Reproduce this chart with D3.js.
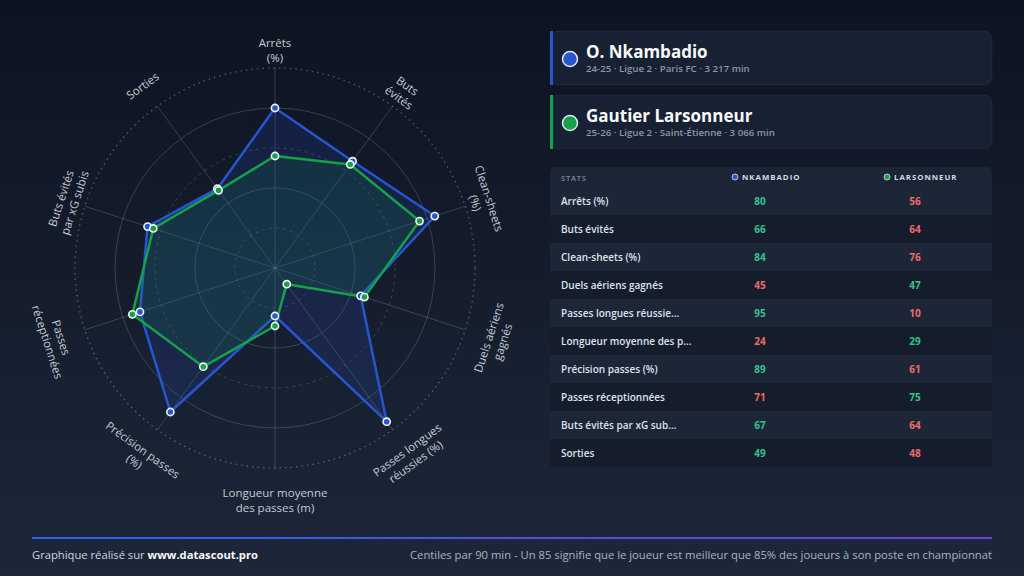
<!DOCTYPE html>
<html>
<head>
<meta charset="utf-8">
<script src="https://cdn.jsdelivr.net/npm/d3@7"></script>
<style>
  html, body { margin: 0; padding: 0; background: #0e1422; }
  svg { display: block; font-family: "Open Sans", "Noto Sans", sans-serif; }
</style>
</head>
<body>
<div id="chart"></div>
<script>
// stats, in radar order (clockwise from top)
const statNames = ["Arrêts (%)", "Buts évités", "Clean-sheets (%)", "Duels aériens gagnés",
  "Passes longues réussies (%)", "Longueur moyenne des passes (m)", "Précision passes (%)",
  "Passes réceptionnées", "Buts évités par xG subis", "Sorties"];
const axisLabels = [["Arrêts", "(%)"], ["Buts", "évités"], ["Clean-sheets", "(%)"], ["Duels aériens", "gagnés"],
  ["Passes longues", "réussies (%)"], ["Longueur moyenne", "des passes (m)"], ["Précision passes", "(%)"],
  ["Passes", "réceptionnées"], ["Buts évités", "par xG subis"], ["Sorties"]];
const nkambadio = [80, 66, 84, 45, 95, 24, 89, 71, 67, 49];
const larsonneur = [56, 64, 76, 47, 10, 29, 61, 75, 64, 48];
const ringTicks = [20, 40, 60, 80, 100];

const players = [
  { short: "NKAMBADIO", name: "O. Nkambadio", info: "24-25 · Ligue 2 · Paris FC · 3 217 min", color: "#2855d0", values: nkambadio },
  { short: "LARSONNEUR", name: "Gautier Larsonneur", info: "25-26 · Ligue 2 · Saint-Étienne · 3 066 min", color: "#15a049", values: larsonneur }
];

const width = 1024, height = 576;
const svg = d3.select("#chart").append("svg").attr("width", width).attr("height", height);

const defs = svg.append("defs");
const bg = defs.append("linearGradient").attr("id", "bg").attr("x1", 0).attr("y1", 0).attr("x2", 0).attr("y2", 1);
bg.append("stop").attr("offset", "0%").attr("stop-color", "#0d1321");
bg.append("stop").attr("offset", "100%").attr("stop-color", "#1d2739");
const line = defs.append("linearGradient").attr("id", "footline");
line.append("stop").attr("offset", "0%").attr("stop-color", "#2563eb");
line.append("stop").attr("offset", "100%").attr("stop-color", "#6d3fd8");

svg.append("rect").attr("width", width).attr("height", height).attr("fill", "url(#bg)");

// ---- radar ----
const cx = 275, cy = 268;
const r = d3.scaleLinear().domain([0, 100]).range([0, 200]);
const angle = d3.scaleLinear().domain([0, statNames.length]).range([0, 2 * Math.PI]);
const pt = (i, v) => [cx + r(v) * Math.sin(angle(i)), cy - r(v) * Math.cos(angle(i))];

const radar = svg.append("g");
const grid = radar.append("g").attr("fill", "none");

grid.selectAll("circle").data(ringTicks).enter().append("circle")
  .attr("cx", cx).attr("cy", cy).attr("r", d => r(d))
  .attr("stroke", d => d === 100 ? "rgba(203,213,225,0.35)" : "rgba(203,213,225,0.2)")
  .attr("stroke-width", d => d === 100 ? 1.3 : 1)
  .attr("stroke-dasharray", d => d === 100 ? "1.5 4" : (d % 40 === 0 ? null : "3 4"));

grid.selectAll("line").data(statNames).enter().append("line")
  .attr("x1", cx).attr("y1", cy)
  .attr("x2", (d, i) => pt(i, 100)[0]).attr("y2", (d, i) => pt(i, 100)[1])
  .attr("stroke", "rgba(203,213,225,0.2)").attr("stroke-width", 1);

players.forEach((p, k) => {
  const poly = p.values.map((v, i) => pt(i, v));
  radar.append("path")
    .attr("d", d3.line().curve(d3.curveLinearClosed)(poly))
    .attr("fill", p.color).attr("fill-opacity", k === 0 ? 0.17 : 0.13)
    .attr("stroke", p.color).attr("stroke-width", 2.5).attr("stroke-linejoin", "round");
});
players.forEach(p => {
  radar.append("g").selectAll("circle").data(p.values).enter().append("circle")
    .attr("cx", (v, i) => pt(i, v)[0]).attr("cy", (v, i) => pt(i, v)[1])
    .attr("r", 3.6).attr("fill", p.color).attr("stroke", "#f1f5f9").attr("stroke-width", 1.6);
});

const labels = radar.append("g").attr("fill", "#c3cad5").attr("font-size", 11.5).attr("font-weight", 500)
  .attr("text-anchor", "middle");
axisLabels.forEach((lines, i) => {
  const [x, y] = pt(i, 112.5);
  let deg = angle(i) * 180 / Math.PI;
  if (deg > 90 && deg < 270) deg -= 180;
  const t = labels.append("text").attr("transform", `translate(${x},${y}) rotate(${deg})`);
  lines.forEach((s, j) => t.append("tspan").attr("x", 0).attr("y", j * 14.5).attr("dy", "0.35em").text(s));
});

// ---- player cards ----
const cardX = 550, cardW = 442;
players.forEach((p, k) => {
  const y0 = 31 + k * 64;
  const g = svg.append("g");
  g.append("rect").attr("x", cardX).attr("y", y0).attr("width", cardW).attr("height", 54).attr("rx", 8)
    .attr("fill", "#182133").attr("stroke", "rgba(255,255,255,0.05)");
  g.append("rect").attr("x", cardX).attr("y", y0).attr("width", 3).attr("height", 54).attr("fill", p.color);
  g.append("circle").attr("cx", 570).attr("cy", y0 + 28).attr("r", 7.5)
    .attr("fill", p.color).attr("stroke", "#e2e8f0").attr("stroke-width", 1.5);
  g.append("text").attr("x", 586).attr("y", y0 + 27).attr("fill", "#f8fafc")
    .attr("font-size", 17).attr("font-weight", 700).text(p.name);
  g.append("text").attr("x", 586).attr("y", y0 + 41).attr("fill", "#8a95a8")
    .attr("font-size", 9.7).attr("font-weight", 600).text(p.info);
});

// ---- stats table ----
const tY = 167, rowH = 28, colX = [763, 918];
const table = svg.append("g");
table.append("path")
  .attr("d", `M${cardX},${tY + 20}V${tY + 5}a5,5 0 0 1 5,-5H${cardX + cardW - 5}a5,5 0 0 1 5,5V${tY + 20}Z`)
  .attr("fill", "#1c2536");
table.append("text").attr("x", 561).attr("y", tY + 13.5).attr("fill", "#7f8a9d")
  .attr("font-size", 7.5).attr("font-weight", 600).attr("letter-spacing", 0.8).text("STATS");
const headX = [735, 887];
players.forEach((p, k) => {
  table.append("circle").attr("cx", headX[k]).attr("cy", tY + 10).attr("r", 3)
    .attr("fill", p.color).attr("stroke", "#e2e8f0").attr("stroke-width", 0.8);
  table.append("text").attr("x", headX[k] + 7).attr("y", tY + 13).attr("fill", "#d4dae4")
    .attr("font-size", 7.8).attr("font-weight", 700).attr("letter-spacing", 1).text(p.short);
});

const rows = table.selectAll("g.row").data(statNames).enter().append("g").attr("class", "row")
  .attr("transform", (d, i) => `translate(0,${tY + 20 + i * rowH})`);
rows.append("rect").attr("x", cardX).attr("width", cardW).attr("height", rowH)
  .attr("fill", (d, i) => i % 2 === 0 ? "#1d2637" : "#151d2d");
rows.append("text").attr("x", 561).attr("y", 17.5).attr("fill", "#dde3ec")
  .attr("font-size", 10).attr("font-weight", 600)
  .text(d => d.length > 22 ? d.slice(0, 22) + "..." : d);
players.forEach((p, k) => {
  const other = players[1 - k].values;
  rows.append("text").attr("x", colX[k] - 3).attr("y", 17.5).attr("text-anchor", "middle")
    .attr("font-size", 10).attr("font-weight", 700)
    .attr("fill", (d, i) => p.values[i] >= other[i] ? "#34c38f" : "#ef6b6b")
    .text((d, i) => p.values[i]);
});

// ---- footer ----
svg.append("rect").attr("x", 32).attr("y", 537).attr("width", 960).attr("height", 2).attr("fill", "url(#footline)");
const left = svg.append("text").attr("x", 32).attr("y", 559).attr("fill", "#cbd5e1").attr("font-size", 11)
  .attr("textLength", 226).attr("lengthAdjust", "spacingAndGlyphs");
left.append("tspan").text("Graphique réalisé sur ");
left.append("tspan").attr("font-weight", 700).attr("fill", "#f8fafc").text("www.datascout.pro");
svg.append("text").attr("x", 992).attr("y", 559).attr("text-anchor", "end").attr("fill", "#aab3c2")
  .attr("font-size", 11).attr("textLength", 582).attr("lengthAdjust", "spacingAndGlyphs")
  .text("Centiles par 90 min - Un 85 signifie que le joueur est meilleur que 85% des joueurs à son poste en championnat");
</script>
</body>
</html>
